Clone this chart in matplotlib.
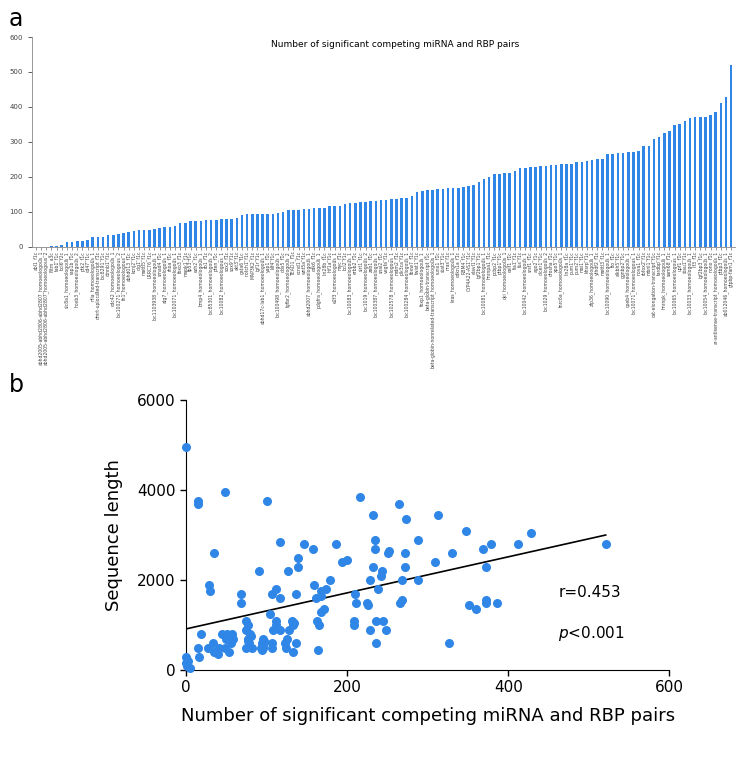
import matplotlib
matplotlib.use("Agg")
import matplotlib.pyplot as plt
import numpy as np

# sorted counts of significant competing miRNA/RBP pairs per transcript
pair_counts = [0, 0, 0, 1, 2, 5, 14, 14, 15, 16, 18, 27, 28, 29, 33, 34, 35, 40, 41, 44,
               48, 48, 49, 51, 53, 55, 57, 58, 68, 68, 74, 74, 74, 77, 77, 77, 78, 79, 80, 82,
               90, 93,
               94, 94, 95, 95, 95, 97, 100, 104, 106, 106, 107, 108, 112, 112, 112, 116, 116, 117, 123, 124,
               125, 127, 128, 131, 132, 133, 134, 136, 136, 139, 139, 146, 157, 159, 161, 163, 164, 165, 168, 168,
               168, 171, 173, 178, 186, 193, 200,
               208, 208, 210, 211, 216, 224, 226, 228, 228, 232, 232, 234, 234, 236, 236, 238, 242, 243, 245, 248,
               251, 252, 264, 266, 268, 268, 272, 272, 273, 288, 288, 309, 313, 326, 330, 347, 351, 360, 369, 372,
               372, 372, 378, 386, 412, 428, 521]

# sequence length of the same transcripts, same order
seq_length = [4950, 300, 150, 100, 200, 50, 3750, 3700, 500, 300, 800, 500, 1900, 1750, 600, 400, 2600, 350, 500, 800,
              3950, 500, 700, 800, 400, 600, 800, 700, 1700, 1500, 900, 1100, 500, 700, 650, 1000, 600, 800, 750, 500,
              2200, 500,
              600, 450, 550, 700, 500, 650, 3750, 1250, 1700, 500, 600, 900, 1800, 1000, 1100, 2850, 1600, 900, 600, 500,
              700, 2200, 900, 1100, 400, 1000, 1050, 600, 1700, 2300, 2500, 2800, 2700, 1900, 1600, 1100, 450, 1000, 1300, 1650,
              1750, 1350, 1800, 2000, 2800, 2400, 2450,
              1100, 1000, 1700, 1500, 3850, 1500, 1450, 900, 2000, 2300, 3450, 2700, 2900, 600, 1100, 1800, 2100, 2200, 1100, 900,
              2600, 2650, 3700, 1500, 1550, 2000, 2600, 2300, 3350, 2000, 2900, 2400, 3450, 600, 2600, 3100, 1450, 1350, 2700, 2300,
              1500, 1550, 2800, 1500, 2800, 3050, 2800]

transcripts = [
    "abl1_f1c", "abhd2005-abhd2806-abhd2807_homoeologous_1", "abhd2005-abhd2806-abhd2807_homoeologous_2", "ifitm_a3c",
    "tab1_f1c", "bcl6_f2c", "slc8a1_homoeologous_1", "rap1b_f1c", "hoxb3_homoeologous_2", "ptk2_f1c",
    "cd47_f1c", "nfia_homoeologous_1", "dmrt-uplocated-transcript_f1c", "loc8291_f1c", "ctnnb1_f1c",
    "cdc42_homoeologous_1", "loc100271_homoeologous_2", "fn1_homoeologous_1", "abhd013_f1c", "kcnj2_f1c",
    "dlg1_f1c", "mettl5_f1c", "LRRC76_f1c", "loc1103938_homoeologous_1", "smad4_f1c",
    "atg7_homoeologous_1", "rhoa_f1c", "loc102071_homoeologous_1", "foxo3_f1c", "mapk1_f1c",
    "tp53_f1c", "ezh2_f1c", "bmp4_homoeologous_1", "rb1_f1c", "loc85301_homoeologous_2",
    "pten_f1c", "loc10082_homoeologous_1", "sox2_f1c", "sox9_f1c", "akt3_f1c",
    "gata6_f1c", "notch1_f1c", "MAP3K2_f1c", "igf1r_f1c", "abhd17c-lab1_homoeologous_1",
    "yap1_f1c", "klf4_f1c", "loc100498_homoeologous_1", "ddx5_f1c", "tgfbr2_homoeologous_2",
    "TEAD1_f1c", "ccnd1_f1c", "wnt5a_f1c", "abhd2007_homoeologous_1", "cdk6_f1c",
    "pdgfra_homoeologous_1", "lin28b_f1c", "hif1a_f1c", "e2f3_homoeologous_1", "myc_f1c",
    "bcl2_f1c", "loc10083_homoeologous_1", "erbb2_f1c", "sirt1_f1c", "loc1019_homoeologous_2",
    "zeb1_f1c", "loc100387_homoeologous_1", "snai2_f1c", "vegfa_f1c", "loc102578_homoeologous_1",
    "mdm2_f1c", "pik3ca_f1c", "loc100284_homoeologous_1", "fbxw7_f1c", "twist1_f1c",
    "foxp1_homoeologous_1", "beta-globin-transcript_f1c", "beta-globin-nonrelated-transcript_homoeologous_1", "runx1_f1c", "stat3_f1c",
    "nras_f1c", "kras_homoeologous_1", "cdkn1a_f1c", "RBM4_f1c", "CYP4A22-AS1_f1c",
    "elavl1_f1c", "igf2bp1_f1c", "loc10081_homoeologous_1", "hnrnpa1_f1c", "pcbp2_f1c",
    "ptbp1_f1c", "qki_homoeologous_1", "celf1_f1c", "tia1_f1c", "fus_f1c",
    "loc10042_homoeologous_1", "srsf1_f1c", "ago2_f1c", "dicer1_f1c", "loc1029_homoeologous_2",
    "drosha_f1c", "xpo5_f1c", "tnrc6a_homoeologous_1", "lin28a_f1c", "pum1_f1c",
    "pum2_f1c", "msi1_f1c", "khsrp_f1c", "zfp36_homoeologous_1", "ythdf2_f1c",
    "mettl3_f1c", "loc10090_homoeologous_1", "fto_f1c", "alkbh5_f1c", "ggnbp2_f1c",
    "cpeb4_homoeologous_1", "loc10071_homoeologous_1", "nova1_f1c", "rbfox2_f1c", "mbnl1_f1c",
    "cat-elongation-transcript_f1c", "tardbp_f1c", "hnrnpk_homoeologous_1", "sam68_f1c", "loc10065_homoeologous_1",
    "upf1_f1c", "stau1_f1c", "loc10033_homoeologous_1", "ilf3_f1c", "igf2bp3_f1c",
    "loc10054_homoeologous_1", "nono_f1c", "ar-antisense-transcript_homoeologous_1", "ptbp3_f1c", "ab012046_homoeologous_1",
    "gtpbp-fam1_f1c",
]

blue = "#2f86e6"

fig = plt.figure(figsize=(7.42, 7.71), dpi=100)

# panel a: bar chart
ax1 = fig.add_axes([0.043, 0.680, 0.948, 0.272])
x = np.arange(len(pair_counts))
ax1.bar(x, pair_counts, width=0.5, color=blue)
ax1.set_xlim(-0.8, len(pair_counts) - 0.2)
ax1.set_ylim(0, 600)
ax1.set_yticks(range(0, 601, 100))
ax1.set_xticks(x)
ax1.set_xticklabels(transcripts, rotation=90, fontsize=3.3)
ax1.tick_params(axis='y', labelsize=5, colors='#444444', length=3, width=0.6)
ax1.tick_params(axis='x', length=2, width=0.4, colors='#444444', pad=1)
for s in ['top', 'right']:
    ax1.spines[s].set_visible(False)
for s in ['left', 'bottom']:
    ax1.spines[s].set_color('#888888')
    ax1.spines[s].set_linewidth(0.6)
ax1.text(0.516, 0.965, 'Number of significant competing miRNA and RBP pairs',
         transform=ax1.transAxes, ha='center', va='center', fontsize=6.5)

# panel b: scatter with regression line
ax2 = fig.add_axes([0.251, 0.131, 0.651, 0.350])
ax2.scatter(pair_counts, seq_length, s=30, color=blue, zorder=3, clip_on=False)
slope, intercept = np.polyfit(pair_counts, seq_length, 1)
xx = np.array([0, max(pair_counts)])
ax2.plot(xx, slope * xx + intercept, color='black', lw=1.2)
ax2.set_xlim(0, 600)
ax2.set_ylim(0, 6000)
ax2.set_xticks([0, 200, 400, 600])
ax2.set_yticks([0, 2000, 4000, 6000])
ax2.tick_params(labelsize=11, width=1, length=4)
for s in ['top', 'right']:
    ax2.spines[s].set_visible(False)
ax2.set_xlabel('Number of significant competing miRNA and RBP pairs', fontsize=13, labelpad=8)
ax2.set_ylabel('Sequence length', fontsize=13, labelpad=10)
ax2.text(0.77, 0.27, 'r=0.453', transform=ax2.transAxes, fontsize=11)
ax2.text(0.77, 0.12, r'$\it{p}$<0.001', transform=ax2.transAxes, fontsize=11)

fig.text(0.012, 0.975, 'a', fontsize=17, va='center')
fig.text(0.012, 0.500, 'b', fontsize=17, va='center')

fig.savefig('out.png', dpi=100)
